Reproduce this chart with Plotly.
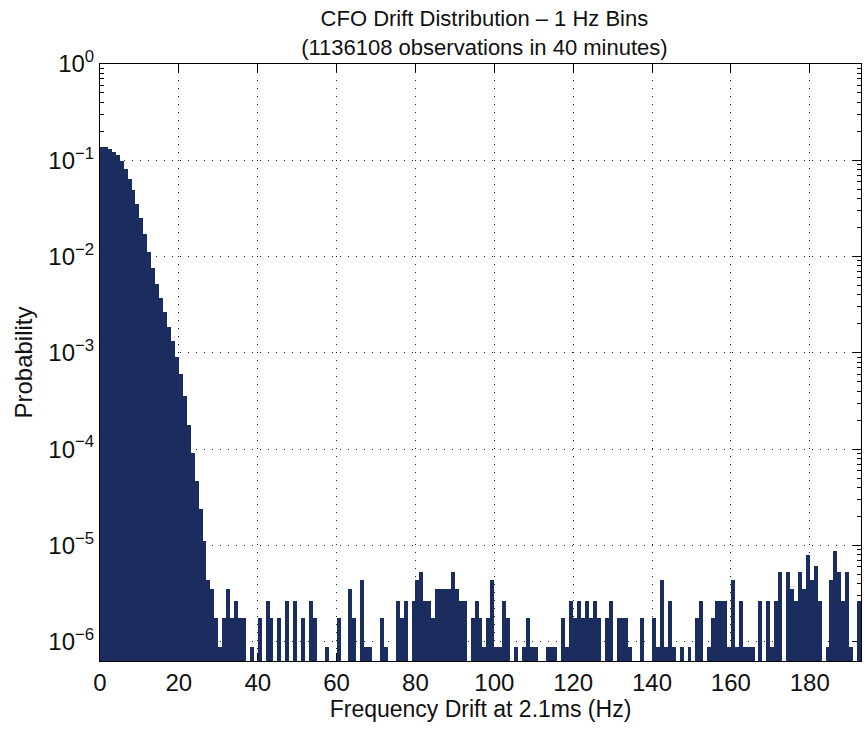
import plotly.graph_objects as go

N_OBS = 1136108

# Probabilities of the main body (bins 0..26, 1 Hz bins)
head_prob = [0.1390, 0.1365, 0.1318, 0.1230, 0.1122, 0.0977, 0.0813, 0.0646,
             0.0490, 0.0355, 0.0251, 0.0170, 0.0112, 0.00759, 0.00525, 0.00372,
             0.00263, 0.00186, 0.00132, 0.000912, 0.000603, 0.000355, 0.000178,
             0.0000912, 0.0000468, 0.0000240, 0.0000112]

# Counts of the sparse tail (bins 27..192)
tail_counts = [5, 4, 2, 1, 2, 4, 2, 3, 2, 2, 0, 1, 0, 2, 0, 3, 2, 0, 2, 0,   # 27-46
               3, 0, 3, 0, 2, 0, 3, 2, 0, 0, 1, 0, 0, 2, 0, 0, 4, 2, 0, 5,   # 47-66
               1, 1, 0, 0, 2, 1, 0, 0, 3, 2, 3, 0, 3, 5, 6, 3, 3, 2, 4, 4,   # 67-86
               4, 4, 6, 4, 3, 3, 0, 2, 3, 2, 1, 2, 5, 1, 1, 3, 2, 0, 1, 0,   # 87-106
               1, 2, 1, 1, 0, 0, 1, 1, 1, 0, 2, 1, 3, 2, 3, 2, 3, 2, 3, 2,   # 107-126
               0, 2, 3, 0, 2, 2, 2, 1, 0, 0, 2, 0, 0, 2, 1, 5, 1, 3, 1, 0,   # 127-146
               1, 0, 1, 0, 2, 3, 0, 1, 2, 3, 3, 3, 1, 5, 1, 3, 1, 1, 1, 0,   # 147-166
               3, 0, 3, 1, 3, 6, 0, 6, 4, 3, 6, 4, 9, 5, 7, 3, 0, 1, 5, 10,  # 167-186
               6, 3, 6, 1, 0, 3]                                             # 187-192

x_ticks = [0, 20, 40, 60, 80, 100, 120, 140, 160, 180]
y_exponents = [-6, -5, -4, -3, -2, -1, 0]

probs = head_prob + [c / N_OBS if c > 0 else None for c in tail_counts]
bin_centers = [k + 0.5 for k in range(len(probs))]

BAR = "#1b2c5e"
FONT = "Liberation Sans, Arial, Helvetica, sans-serif"

fig = go.Figure(go.Bar(x=bin_centers, y=probs, width=1.0,
                       marker=dict(color=BAR, line=dict(width=0))))

fig.update_layout(
    width=865, height=729,
    margin=dict(l=100, r=4, t=64, b=68),
    paper_bgcolor="white", plot_bgcolor="white",
    bargap=0, showlegend=False,
    font=dict(family=FONT, size=24, color="#111"),
    title=dict(text="CFO Drift Distribution \u2013 1 Hz Bins<br>(1136108 observations in 40 minutes)",
               x=0.56, xanchor="center", y=0.964, yanchor="top",
               font=dict(family=FONT, size=22, color="#111")),
)

fig.update_xaxes(
    range=[0, 193], tickmode="array", tickvals=x_ticks,
    ticks="inside", ticklen=8, tickcolor="#000",
    showline=True, linecolor="#000", linewidth=1, mirror="ticks",
    showgrid=True, gridcolor="#222", gridwidth=1, griddash="1px,7px",
    zeroline=False, layer="below traces", ticklabelstandoff=0,
    title=dict(text="Frequency Drift at 2.1ms (Hz)", font=dict(size=23), standoff=0),
)

fig.update_yaxes(
    type="log", range=[-6.2, 0], tickmode="array",
    tickvals=[10.0 ** e for e in y_exponents],
    ticktext=["10<sup>%s</sup>" % (("\u2212%d" % -e) if e < 0 else "0") for e in y_exponents],
    ticks="inside", ticklen=8, tickcolor="#000",
    minor=dict(ticks="inside", ticklen=4, tickcolor="#000", showgrid=False,
               tickmode="array",
               tickvals=[m * 10.0 ** e for e in range(-7, 0) for m in range(2, 10)]),
    showline=True, linecolor="#000", linewidth=1, mirror="ticks",
    showgrid=True, gridcolor="#222", gridwidth=1, griddash="1px,7px",
    zeroline=False, layer="below traces",
    title=dict(text="Probability", font=dict(size=24), standoff=8),
)

fig.write_html("out.html")
